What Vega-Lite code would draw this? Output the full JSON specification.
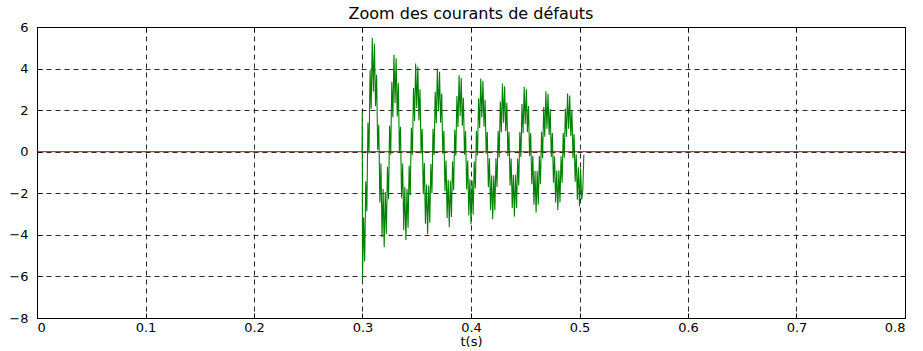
{
  "$schema": "https://vega.github.io/schema/vega-lite/v6.json",
  "width": 868,
  "height": 291,
  "autosize": "none",
  "padding": {"left": 37, "top": 27, "right": 18, "bottom": 33},
  "background": "white",
  "config": {
    "view": {"stroke": "#000", "strokeWidth": 1},
    "font": "DejaVu Sans"
  },
  "title": {
    "text": "Zoom des courants de défauts",
    "font": "DejaVu Sans",
    "fontSize": 16,
    "fontWeight": "normal",
    "color": "#000",
    "anchor": "middle",
    "offset": -1
  },
  "datasets": {
    "green": [
      {"t": 0.2996, "i": 0}, {"t": 0.2998, "i": 1.9},
      {"t": 0.300, "i": -6.2}, {"t": 0.301, "i": -3.16}, {"t": 0.302, "i": -5.28}, {"t": 0.303, "i": -1.42}, {"t": 0.304, "i": -2.88},
      {"t": 0.305, "i": 1.4}, {"t": 0.306, "i": -0.08}, {"t": 0.307, "i": 3.92}, {"t": 0.308, "i": 2.06}, {"t": 0.309, "i": 5.47},
      {"t": 0.310, "i": 2.88}, {"t": 0.311, "i": 5.2}, {"t": 0.312, "i": 2.2}, {"t": 0.313, "i": 3.7}, {"t": 0.314, "i": 0.1},
      {"t": 0.315, "i": 1.3}, {"t": 0.316, "i": -2.44}, {"t": 0.317, "i": -0.57}, {"t": 0.318, "i": -4.11}, {"t": 0.319, "i": -1.79},
      {"t": 0.320, "i": -4.6}, {"t": 0.321, "i": -1.94}, {"t": 0.322, "i": -3.96}, {"t": 0.323, "i": -0.72}, {"t": 0.324, "i": -2.29},
      {"t": 0.325, "i": 1.25}, {"t": 0.326, "i": -0.14}, {"t": 0.327, "i": 3.37}, {"t": 0.328, "i": 1.66}, {"t": 0.329, "i": 4.67},
      {"t": 0.330, "i": 2.35}, {"t": 0.331, "i": 4.5}, {"t": 0.332, "i": 1.7}, {"t": 0.333, "i": 3.3}, {"t": 0.334, "i": 0.0},
      {"t": 0.335, "i": 1.2}, {"t": 0.336, "i": -2.21}, {"t": 0.337, "i": -0.57}, {"t": 0.338, "i": -3.76}, {"t": 0.339, "i": -1.7},
      {"t": 0.340, "i": -4.25}, {"t": 0.341, "i": -1.8}, {"t": 0.342, "i": -3.66}, {"t": 0.343, "i": -0.67}, {"t": 0.344, "i": -2.11},
      {"t": 0.345, "i": 1.15}, {"t": 0.346, "i": -0.15}, {"t": 0.347, "i": 3.06}, {"t": 0.348, "i": 1.48}, {"t": 0.349, "i": 4.24},
      {"t": 0.350, "i": 2.1}, {"t": 0.351, "i": 4.1}, {"t": 0.352, "i": 1.5}, {"t": 0.353, "i": 3.0}, {"t": 0.354, "i": -0.1},
      {"t": 0.355, "i": 1.1}, {"t": 0.356, "i": -2.04}, {"t": 0.357, "i": -0.54}, {"t": 0.358, "i": -3.47}, {"t": 0.359, "i": -1.58},
      {"t": 0.360, "i": -3.97}, {"t": 0.361, "i": -1.63}, {"t": 0.362, "i": -3.42}, {"t": 0.363, "i": -0.59}, {"t": 0.364, "i": -1.99},
      {"t": 0.365, "i": 1.1}, {"t": 0.366, "i": -0.16}, {"t": 0.367, "i": 2.89}, {"t": 0.368, "i": 1.37}, {"t": 0.369, "i": 4.0},
      {"t": 0.370, "i": 1.95}, {"t": 0.371, "i": 3.85}, {"t": 0.372, "i": 1.4}, {"t": 0.373, "i": 2.8}, {"t": 0.374, "i": -0.1},
      {"t": 0.375, "i": 1.0}, {"t": 0.376, "i": -1.9}, {"t": 0.377, "i": -0.42}, {"t": 0.378, "i": -3.19}, {"t": 0.379, "i": -1.35},
      {"t": 0.380, "i": -3.63}, {"t": 0.381, "i": -1.4}, {"t": 0.382, "i": -3.14}, {"t": 0.383, "i": -0.47}, {"t": 0.384, "i": -1.85},
      {"t": 0.385, "i": 1.05}, {"t": 0.386, "i": -0.19}, {"t": 0.387, "i": 2.68}, {"t": 0.388, "i": 1.19}, {"t": 0.389, "i": 3.68},
      {"t": 0.390, "i": 1.72}, {"t": 0.391, "i": 3.55}, {"t": 0.392, "i": 1.25}, {"t": 0.393, "i": 2.6}, {"t": 0.394, "i": -0.15},
      {"t": 0.395, "i": 1.0}, {"t": 0.396, "i": -1.82}, {"t": 0.397, "i": -0.42}, {"t": 0.398, "i": -3.07}, {"t": 0.399, "i": -1.33},
      {"t": 0.400, "i": -3.5}, {"t": 0.401, "i": -1.38}, {"t": 0.402, "i": -3.02}, {"t": 0.403, "i": -0.47}, {"t": 0.404, "i": -1.77},
      {"t": 0.405, "i": 1.0}, {"t": 0.406, "i": -0.18}, {"t": 0.407, "i": 2.56}, {"t": 0.408, "i": 1.14}, {"t": 0.409, "i": 3.52},
      {"t": 0.410, "i": 1.65}, {"t": 0.411, "i": 3.4}, {"t": 0.412, "i": 1.2}, {"t": 0.413, "i": 2.5}, {"t": 0.414, "i": -0.1},
      {"t": 0.415, "i": 0.95}, {"t": 0.416, "i": -1.7}, {"t": 0.417, "i": -0.32}, {"t": 0.418, "i": -2.82}, {"t": 0.419, "i": -1.14},
      {"t": 0.420, "i": -3.25}, {"t": 0.421, "i": -1.14}, {"t": 0.422, "i": -2.82}, {"t": 0.423, "i": -0.32}, {"t": 0.424, "i": -1.7},
      {"t": 0.425, "i": 1.0}, {"t": 0.426, "i": -0.26}, {"t": 0.427, "i": 2.41}, {"t": 0.428, "i": 0.94}, {"t": 0.429, "i": 3.28},
      {"t": 0.430, "i": 1.4}, {"t": 0.431, "i": 3.15}, {"t": 0.432, "i": 1.0}, {"t": 0.433, "i": 2.35}, {"t": 0.434, "i": -0.2},
      {"t": 0.435, "i": 0.95}, {"t": 0.436, "i": -1.62}, {"t": 0.437, "i": -0.33}, {"t": 0.438, "i": -2.71}, {"t": 0.439, "i": -1.11},
      {"t": 0.440, "i": -3.12}, {"t": 0.441, "i": -1.11}, {"t": 0.442, "i": -2.71}, {"t": 0.443, "i": -0.33}, {"t": 0.444, "i": -1.62},
      {"t": 0.445, "i": 0.95}, {"t": 0.446, "i": -0.25}, {"t": 0.447, "i": 2.29}, {"t": 0.448, "i": 0.89}, {"t": 0.449, "i": 3.12},
      {"t": 0.450, "i": 1.33}, {"t": 0.451, "i": 3.0}, {"t": 0.452, "i": 0.95}, {"t": 0.453, "i": 2.2}, {"t": 0.454, "i": -0.2},
      {"t": 0.455, "i": 0.9}, {"t": 0.456, "i": -1.56}, {"t": 0.457, "i": -0.21}, {"t": 0.458, "i": -2.55}, {"t": 0.459, "i": -0.93},
      {"t": 0.460, "i": -2.93}, {"t": 0.461, "i": -0.93}, {"t": 0.462, "i": -2.55}, {"t": 0.463, "i": -0.21}, {"t": 0.464, "i": -1.56},
      {"t": 0.465, "i": 0.95}, {"t": 0.466, "i": -0.31}, {"t": 0.467, "i": 2.16}, {"t": 0.468, "i": 0.72}, {"t": 0.469, "i": 2.91},
      {"t": 0.470, "i": 1.11}, {"t": 0.471, "i": 2.8}, {"t": 0.472, "i": 0.8}, {"t": 0.473, "i": 2.05}, {"t": 0.474, "i": -0.25},
      {"t": 0.475, "i": 0.9}, {"t": 0.476, "i": -1.49}, {"t": 0.477, "i": -0.22}, {"t": 0.478, "i": -2.44}, {"t": 0.479, "i": -0.91},
      {"t": 0.480, "i": -2.8}, {"t": 0.481, "i": -0.91}, {"t": 0.482, "i": -2.44}, {"t": 0.483, "i": -0.22}, {"t": 0.484, "i": -1.49},
      {"t": 0.485, "i": 0.9}, {"t": 0.486, "i": -0.28}, {"t": 0.487, "i": 2.08}, {"t": 0.488, "i": 0.72}, {"t": 0.489, "i": 2.8},
      {"t": 0.490, "i": 1.1}, {"t": 0.491, "i": 2.7}, {"t": 0.492, "i": 0.75}, {"t": 0.493, "i": 2.0}, {"t": 0.494, "i": -0.3},
      {"t": 0.495, "i": 0.85}, {"t": 0.496, "i": -1.44}, {"t": 0.497, "i": -0.12}, {"t": 0.498, "i": -2.31}, {"t": 0.499, "i": -0.75},
      {"t": 0.500, "i": -2.64}, {"t": 0.501, "i": -0.8}, {"t": 0.502, "i": -2.3}, {"t": 0.503, "i": -1.9}, {"t": 0.504, "i": -0.15}
    ],
    "red": [{"t": 0, "i": 0}, {"t": 0.8, "i": 0}]
  },
  "layer": [
    {
      "data": {"name": "green"},
      "mark": {"type": "line", "color": "#008000", "strokeWidth": 1.1, "clip": true},
      "encoding": {
        "x": {
          "field": "t", "type": "quantitative",
          "scale": {"domain": [0, 0.8], "nice": false, "zero": false},
          "axis": {
            "orient": "bottom",
            "values": [0, 0.1, 0.2, 0.3, 0.4, 0.5, 0.6, 0.7, 0.8],
            "labelExpr": "datum.value == 0 ? '0' : format(datum.value, '.1f')",
            "title": "t(s)",
            "titleFont": "DejaVu Sans", "titleFontSize": 13, "titleFontWeight": "normal", "titleColor": "#000",
            "titlePadding": 1,
            "labelFont": "DejaVu Sans", "labelFontSize": 13, "labelColor": "#000",
            "labelPadding": 8,
            "tickSize": -5, "tickColor": "#000",
            "domain": true, "domainColor": "#000",
            "grid": true, "gridDash": [5, 4], "gridColor": "#000", "gridOpacity": 0.85, "gridWidth": 1
          }
        },
        "y": {
          "field": "i", "type": "quantitative",
          "scale": {"domain": [-8, 6], "nice": false, "zero": false},
          "axis": {
            "orient": "left",
            "values": [-8, -6, -4, -2, 0, 2, 4, 6],
            "title": null,
            "labelFont": "DejaVu Sans", "labelFontSize": 13, "labelColor": "#000",
            "labelPadding": 14,
            "tickSize": -5, "tickColor": "#000",
            "domain": true, "domainColor": "#000",
            "grid": true, "gridDash": [5, 4], "gridColor": "#000", "gridOpacity": 0.85, "gridWidth": 1
          }
        }
      }
    },
    {
      "data": {"name": "red"},
      "mark": {"type": "line", "color": "#c00000", "strokeWidth": 1},
      "encoding": {
        "x": {
          "field": "t", "type": "quantitative",
          "axis": {
            "orient": "top", "values": [0, 0.1, 0.2, 0.3, 0.4, 0.5, 0.6, 0.7, 0.8],
            "labels": false, "title": null, "grid": false,
            "tickSize": -5, "tickColor": "#000", "domainColor": "#000"
          }
        },
        "y": {
          "field": "i", "type": "quantitative",
          "axis": {
            "orient": "right", "values": [-8, -6, -4, -2, 0, 2, 4, 6],
            "labels": false, "title": null, "grid": false,
            "tickSize": -5, "tickColor": "#000", "domainColor": "#000"
          }
        }
      }
    }
  ],
  "resolve": {"axis": {"x": "independent", "y": "independent"}}
}
